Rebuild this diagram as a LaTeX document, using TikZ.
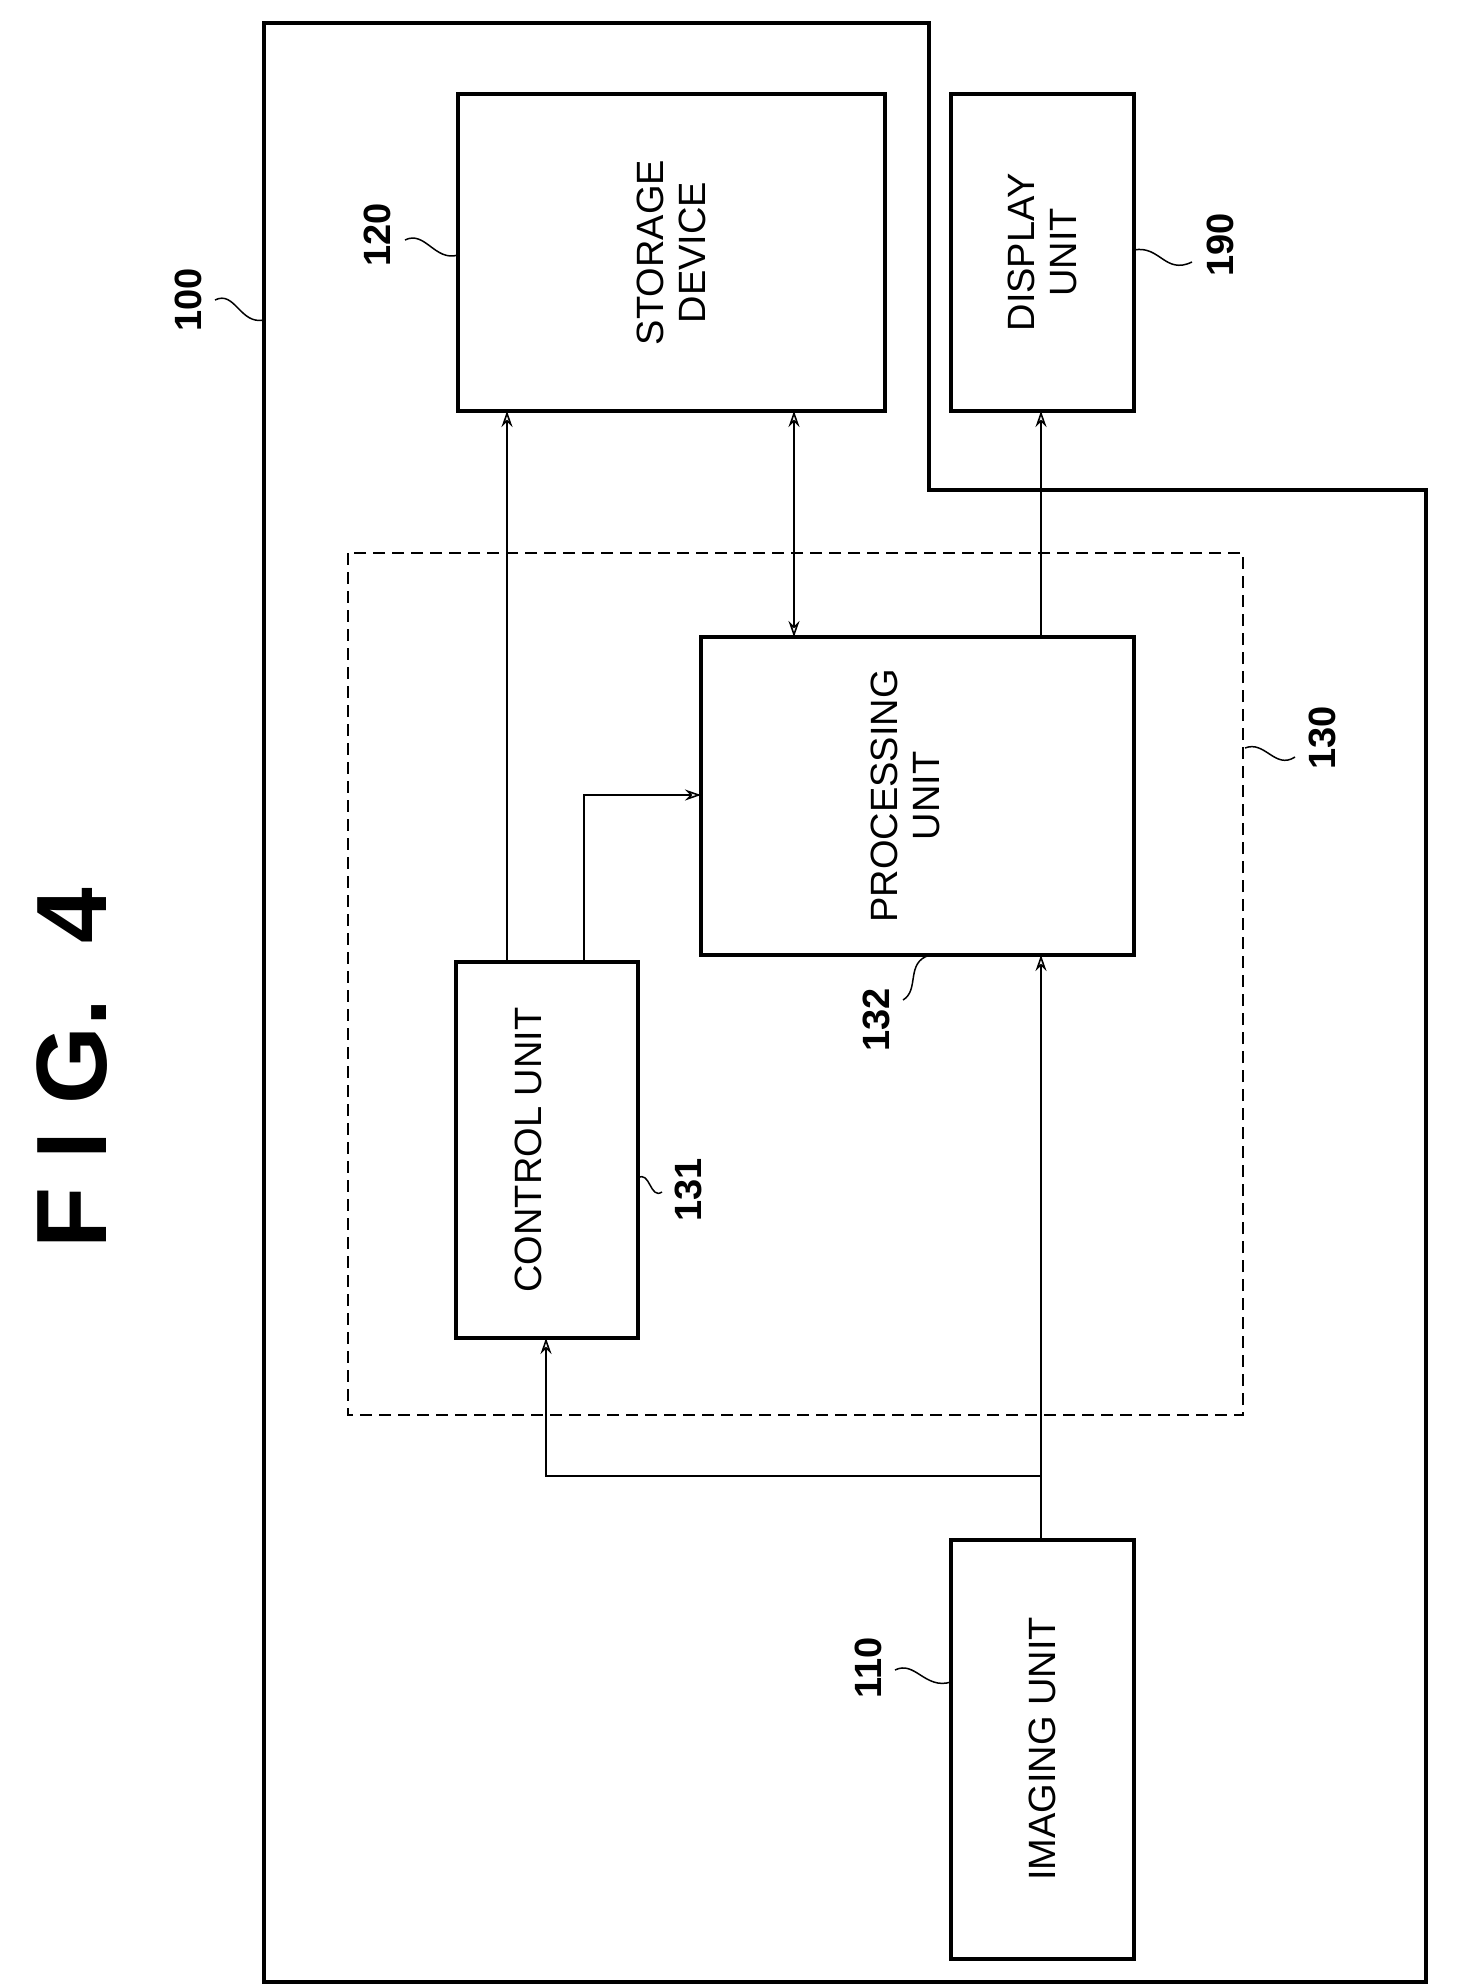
\documentclass[tikz,border=0pt]{standalone}
\usepackage{fontspec}
\setmainfont{Liberation Sans}
\usetikzlibrary{arrows.meta}
\begin{document}
\begin{tikzpicture}[x=1pt,y=-1pt,
 box/.style={draw,line width=3.5pt},
 lbl/.style={rotate=90,font=\fontsize{38}{42}\selectfont,align=center},
 num/.style={rotate=90,font=\bfseries\fontsize{38}{40}\selectfont},
 arr/.style={line width=1.6pt,-{Stealth[length=16pt,width=11pt,open]}},
 sq/.style={line width=1.5pt}]
\useasboundingbox (0,0) rectangle (1457,1988);
\draw[box] (264,23) -- (929,23) -- (929,490) -- (1426,490) -- (1426,1982) -- (264,1982) -- cycle;
\draw[line width=1.6pt,dash pattern=on 12pt off 7pt] (348,553) rectangle (1243,1415);
\node[box,minimum width=427pt,minimum height=317pt] (st) at (671.5,252.5) {};
\node[lbl] at (st) {STORAGE\\DEVICE};
\node[box,minimum width=183pt,minimum height=317pt] (di) at (1042.5,252.5) {};
\node[lbl] at (di) {DISPLAY\\UNIT};
\node[box,minimum width=433pt,minimum height=318pt] (pr) at (917.5,796) {};
\node[lbl] at (905,796) {PROCESSING\\UNIT};
\node[box,minimum width=182pt,minimum height=376pt] (co) at (547,1150) {};
\node[lbl] at (528,1150) {CONTROL UNIT};
\node[box,minimum width=183pt,minimum height=419pt] (im) at (1042.5,1749.5) {};
\node[lbl] at (1042,1749) {IMAGING UNIT};
\coordinate (br) at (1041,1476);
\draw[arr] (507,962) -- (507,411);
\draw[arr] (584,962) -- (584,795) -- (701,795);
\draw[line width=1.6pt,{Stealth[length=16pt,width=11pt,open]}-{Stealth[length=16pt,width=11pt,open]}] (794,411) -- (794,637);
\draw[arr] (1041,637) -- (1041,411);
\draw[arr] (1041,1540) -- (1041,955);
\draw[arr] (br) -- (546,1476) -- (546,1338);
\node[rotate=90,font=\bfseries\fontsize{100}{100}\selectfont] (t) at (72,1068) {F I G.\ \ 4};
\node[num] (n100) at (188,300) {100};
\draw[sq] (215,300) .. controls (235,290) and (240,325) .. (264,320);
\node[num] (n120) at (377,235) {120};
\draw[sq] (405,240) .. controls (425,230) and (435,262) .. (458,255);
\node[num] (n190) at (1220,245) {190};
\draw[sq] (1134,250) .. controls (1160,245) and (1165,275) .. (1192,262);
\node[num] (n130) at (1322,738) {130};
\draw[sq] (1245,748) .. controls (1265,740) and (1275,770) .. (1295,757);
\node[num] (n132) at (876,1020) {132};
\draw[sq] (903,1000) .. controls (920,990) and (905,962) .. (930,955);
\node[num] (n131) at (688,1190) {131};
\draw[sq] (638,1178) .. controls (650,1170) and (650,1200) .. (662,1192);
\node[num] (n110) at (868,1668) {110};
\draw[sq] (895,1670) .. controls (915,1660) and (925,1690) .. (951,1682);
\end{tikzpicture}
\end{document}
